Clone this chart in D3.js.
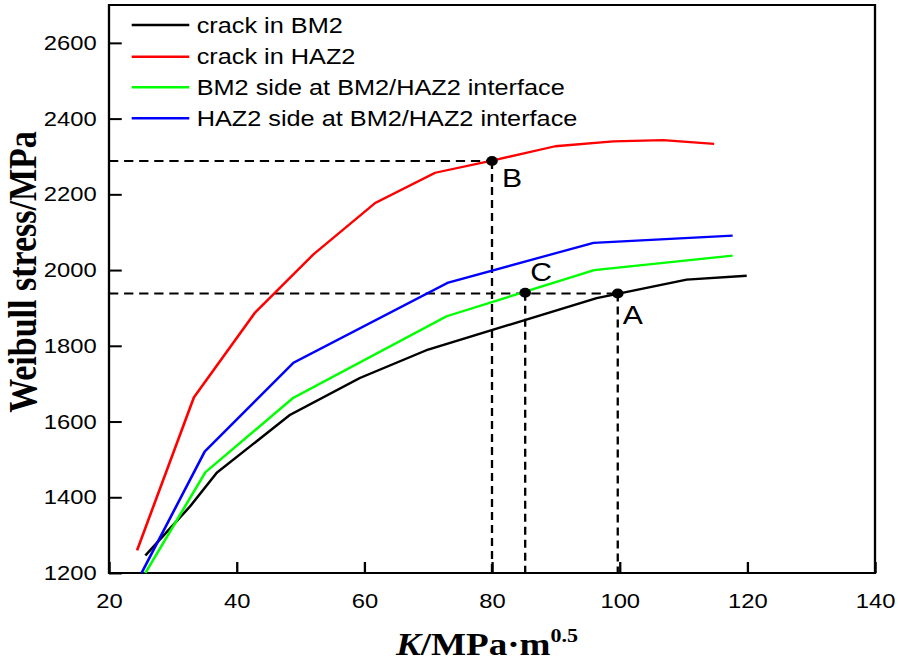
<!DOCTYPE html>
<html>
<head>
<meta charset="utf-8">
<script src="https://cdn.jsdelivr.net/npm/d3@7"></script>
<style>
  html, body { margin: 0; padding: 0; background: #fff; }
  svg { display: block; }
</style>
</head>
<body>
<div id="chart"></div>
<script>
// ---- data ----
const xTicks = [20, 40, 60, 80, 100, 120, 140];
const yTicks = [1200, 1400, 1600, 1800, 2000, 2200, 2400, 2600];

const seriesNames = [
  "crack in BM2",
  "crack in HAZ2",
  "BM2 side at BM2/HAZ2 interface",
  "HAZ2 side at BM2/HAZ2 interface"
];
const seriesColors = ["#000000", "#ff0000", "#00ff00", "#0000ff"];

const bm2K      = [25.7, 32.7, 36.9, 48.4, 59.3, 70.0, 96.4, 110.5, 119.9];
const bm2Stress = [1246, 1376, 1465, 1618, 1715, 1790, 1926, 1975, 1985];

const haz2K      = [24.4, 33.3, 42.9, 52.0, 61.7, 71.1, 80.0, 89.9, 99.0, 106.8, 114.8];
const haz2Stress = [1260, 1664, 1888, 2041, 2177, 2257, 2289, 2327, 2340, 2343, 2333];

const bm2SideK      = [25.7, 35.1, 48.9, 72.9, 96.0, 117.7];
const bm2SideStress = [1200, 1466, 1663, 1878, 2000, 2038];

const haz2SideK      = [25.1, 35.0, 48.9, 73.0, 95.9, 117.7];
const haz2SideStress = [1200, 1521, 1755, 1966, 2072, 2091];

const markLabels = ["A", "B", "C"];
const markK      = [99.7, 80.0, 85.2];
const markStress = [1938, 2288, 1940];

// ---- layout ----
const W = 898, H = 666;
const sx = 1.16;               // reference figure is stretched horizontally
const L = 109 / sx, R = 875 / sx, T = 5, B = 573;

const svg = d3.select("#chart").append("svg")
  .attr("width", W).attr("height", H)
  .style("background", "#fff");

const g = svg.append("g").attr("transform", `scale(${sx},1)`);

const x = d3.scaleLinear().domain([20, 140]).range([L, R]);
const y = d3.scaleLinear().domain([1200, 2700]).range([B, T]);

const sansFont = "'Liberation Sans', Arial, Helvetica, sans-serif";
const serifFont = "'Liberation Serif', 'Times New Roman', serif";

// axes (ticks inward)
const xAxis = g.append("g").attr("transform", `translate(0,${B})`)
  .call(d3.axisBottom(x).tickValues(xTicks).tickSizeInner(-11).tickSizeOuter(0).tickPadding(20).tickFormat(d3.format("d")));
const yAxis = g.append("g").attr("transform", `translate(${L},0)`)
  .call(d3.axisLeft(y).tickValues(yTicks).tickSizeInner(-11).tickSizeOuter(0).tickPadding(10.6).tickFormat(d3.format("d")));

[xAxis, yAxis].forEach(a => {
  a.select(".domain").remove();
  a.selectAll(".tick line").attr("stroke", "#000").attr("stroke-width", 2);
  a.selectAll(".tick text").attr("fill", "#000")
    .style("font-family", sansFont).style("font-size", "20.5px");
});

// frame
g.append("rect")
  .attr("x", L).attr("y", T).attr("width", R - L).attr("height", B - T)
  .attr("fill", "none").attr("stroke", "#000").attr("stroke-width", 2);

// dashed guide lines
const dashStyle = sel => sel.attr("stroke", "#000").attr("stroke-width", 2)
  .attr("stroke-dasharray", "8,5").attr("fill", "none");
// horizontal to B
g.append("line").attr("x1", x(20)).attr("x2", x(markK[1]))
  .attr("y1", y(markStress[1])).attr("y2", y(markStress[1])).call(dashStyle);
// vertical from B
g.append("line").attr("x1", x(markK[1])).attr("x2", x(markK[1]))
  .attr("y1", y(markStress[1])).attr("y2", y(1200)).call(dashStyle);
// horizontal to A
g.append("line").attr("x1", x(20)).attr("x2", x(markK[0]))
  .attr("y1", y(markStress[0])).attr("y2", y(markStress[0])).call(dashStyle);
// vertical from A
g.append("line").attr("x1", x(markK[0])).attr("x2", x(markK[0]))
  .attr("y1", y(markStress[0])).attr("y2", y(1200)).call(dashStyle);
// vertical from C
g.append("line").attr("x1", x(markK[2])).attr("x2", x(markK[2]))
  .attr("y1", y(markStress[2])).attr("y2", y(1200)).call(dashStyle);

// series lines
const series = [
  [bm2K, bm2Stress],
  [haz2K, haz2Stress],
  [bm2SideK, bm2SideStress],
  [haz2SideK, haz2SideStress]
];
const line = d3.line().x(d => x(d[0])).y(d => y(d[1]));
series.forEach((s, i) => {
  const pts = s[0].map((k, j) => [k, s[1][j]]);
  g.append("path").datum(pts)
    .attr("d", line)
    .attr("fill", "none")
    .attr("stroke", seriesColors[i])
    .attr("stroke-width", 2.3)
    .attr("stroke-linejoin", "round");
});

// markers and labels
const labelOffsets = [[5, 30], [10, 26], [5, -12]]; // page-pixel offsets for A, B, C
markK.forEach((k, i) => {
  g.append("circle").attr("cx", x(k)).attr("cy", y(markStress[i])).attr("r", 5).attr("fill", "#000");
  g.append("text")
    .attr("x", x(k) + labelOffsets[i][0] / sx)
    .attr("y", y(markStress[i]) + labelOffsets[i][1])
    .attr("fill", "#000")
    .style("font-family", sansFont).style("font-size", "26px")
    .text(markLabels[i]);
});

// legend
const legY = [25, 56.7, 87.3, 118.3];
seriesNames.forEach((name, i) => {
  g.append("line")
    .attr("x1", 131.7 / sx).attr("x2", 189.3 / sx)
    .attr("y1", legY[i]).attr("y2", legY[i])
    .attr("stroke", seriesColors[i]).attr("stroke-width", 2.5);
  g.append("text")
    .attr("x", 196.7 / sx).attr("y", legY[i] + 7.6)
    .attr("fill", "#000")
    .style("font-family", sansFont).style("font-size", "21.8px")
    .text(name);
});

// y axis title
g.append("text")
  .attr("transform", `translate(${35.5 / sx},272) rotate(-90)`)
  .attr("text-anchor", "middle")
  .attr("fill", "#000")
  .style("font-family", serifFont).style("font-size", "34px").style("font-weight", "bold")
  .text("Weibull stress/MPa");

// x axis title
const xt = g.append("text")
  .attr("x", 487 / sx).attr("y", 655)
  .attr("text-anchor", "middle")
  .attr("fill", "#000")
  .style("font-family", serifFont).style("font-size", "32px").style("font-weight", "bold");
xt.append("tspan").style("font-style", "italic").text("K");
xt.append("tspan").text("/MPa·m");
xt.append("tspan").attr("dy", -13).style("font-size", "19px").text("0.5");
</script>
</body>
</html>
